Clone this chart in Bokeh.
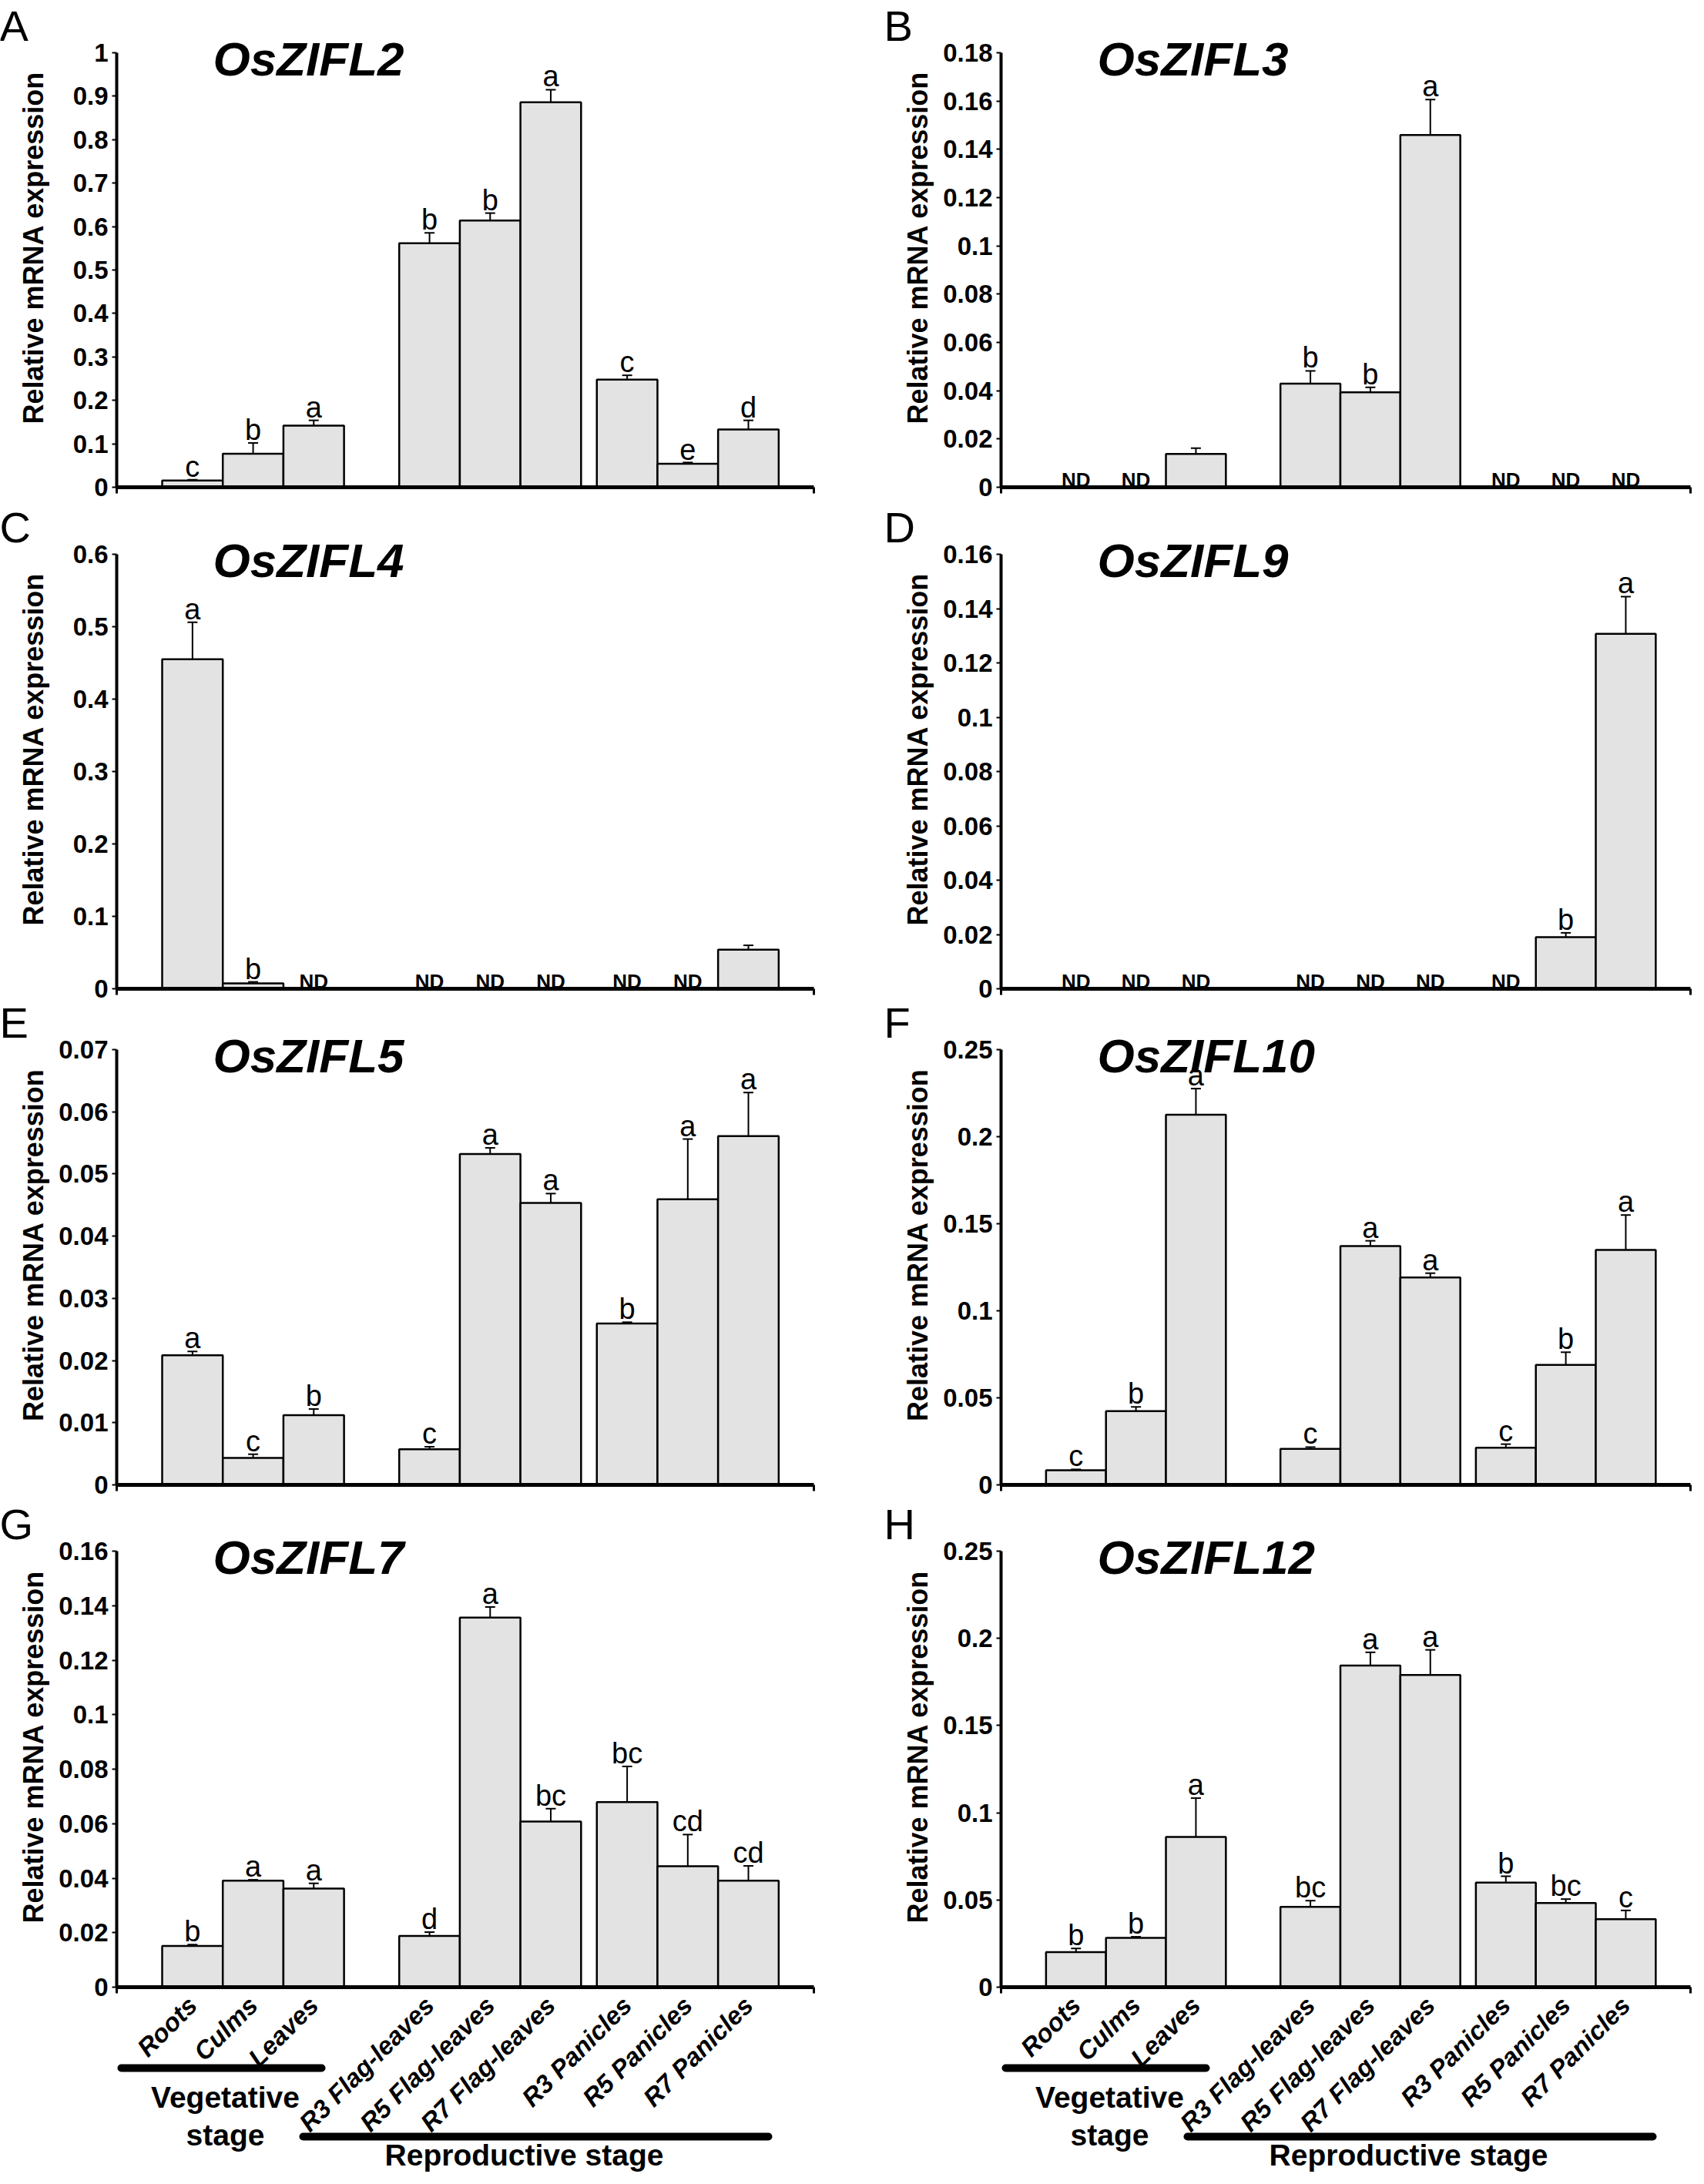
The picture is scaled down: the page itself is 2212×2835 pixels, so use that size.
import math
from bokeh.plotting import figure
from bokeh.models import (Range1d, FixedTicker, NumeralTickFormatter, Label, Whisker,
                          TeeHead, ColumnDataSource, CustomJSTickFormatter, LinearAxis)
from bokeh.embed import file_html
from bokeh.resources import INLINE
from bokeh.core.properties import value

# ---------------- data ----------------
tissues = ["Roots", "Culms", "Leaves",
           "R3 Flag-leaves", "R5 Flag-leaves", "R7 Flag-leaves",
           "R3 Panicles", "R5 Panicles", "R7 Panicles"]
tissue_group = [0, 0, 0, 1, 1, 1, 2, 2, 2]
stage_text_veg = ["Vegetative", "stage"]
stage_text_rep = ["Reproductive stage"]

panel_letters = ["A", "B", "C", "D", "E", "F", "G", "H"]
genes = ["OsZIFL2", "OsZIFL3", "OsZIFL4", "OsZIFL9",
         "OsZIFL5", "OsZIFL10", "OsZIFL7", "OsZIFL12"]
y_label = "Relative mRNA expression"
y_max = [1.0, 0.18, 0.6, 0.16, 0.07, 0.25, 0.16, 0.25]
y_step = [0.1, 0.02, 0.1, 0.02, 0.01, 0.05, 0.02, 0.05]

ND = None  # not detected

oszifl2 = [0.0154, 0.077, 0.142, 0.5615, 0.614, 0.886, 0.2477, 0.054, 0.133]
oszifl2_err = [0.002, 0.025, 0.012, 0.024, 0.017, 0.029, 0.010, 0.003, 0.021]
oszifl2_sig = ["c", "b", "a", "b", "b", "a", "c", "e", "d"]

oszifl3 = [ND, ND, 0.0138, 0.0429, 0.0393, 0.1459, ND, ND, ND]
oszifl3_err = [ND, ND, 0.0024, 0.0053, 0.0021, 0.0147, ND, ND, ND]
oszifl3_sig = ["", "", "", "b", "b", "a", "", "", ""]

oszifl4 = [0.455, 0.0075, ND, ND, ND, ND, ND, ND, 0.054]
oszifl4_err = [0.051, 0.002, ND, ND, ND, ND, ND, ND, 0.006]
oszifl4_sig = ["a", "b", "", "", "", "", "", "", ""]

oszifl9 = [ND, ND, ND, ND, ND, ND, ND, 0.019, 0.1307]
oszifl9_err = [ND, ND, ND, ND, ND, ND, ND, 0.0016, 0.0137]
oszifl9_sig = ["", "", "", "", "", "", "", "b", "a"]

oszifl5 = [0.02085, 0.00433, 0.0112, 0.00573, 0.0532, 0.04535, 0.02596, 0.04592, 0.0561]
oszifl5_err = [0.0006, 0.0006, 0.001, 0.0004, 0.001, 0.0015, 0.0002, 0.0097, 0.007]
oszifl5_sig = ["a", "c", "b", "c", "a", "a", "b", "a", "a"]

oszifl10 = [0.0084, 0.0424, 0.2126, 0.0207, 0.1372, 0.1191, 0.0214, 0.0689, 0.135]
oszifl10_err = [0.0005, 0.0024, 0.015, 0.001, 0.003, 0.0025, 0.002, 0.0073, 0.02]
oszifl10_sig = ["c", "b", "a", "c", "a", "a", "c", "b", "a"]

oszifl7 = [0.0151, 0.0391, 0.0362, 0.0188, 0.1356, 0.0608, 0.0679, 0.0444, 0.0391]
oszifl7_err = [0.0005, 0.0003, 0.0019, 0.0014, 0.0039, 0.0047, 0.0131, 0.0116, 0.0054]
oszifl7_sig = ["b", "a", "a", "d", "a", "bc", "bc", "cd", "cd"]

oszifl12 = [0.0201, 0.0283, 0.0861, 0.0461, 0.1844, 0.179, 0.060, 0.0483, 0.039]
oszifl12_err = [0.0021, 0.0006, 0.0223, 0.0035, 0.0076, 0.0144, 0.0036, 0.0022, 0.005]
oszifl12_sig = ["b", "b", "a", "bc", "a", "a", "b", "bc", "c"]

expr_values = [oszifl2, oszifl3, oszifl4, oszifl9, oszifl5, oszifl10, oszifl7, oszifl12]
expr_errors = [oszifl2_err, oszifl3_err, oszifl4_err, oszifl9_err,
               oszifl5_err, oszifl10_err, oszifl7_err, oszifl12_err]
expr_letters = [oszifl2_sig, oszifl3_sig, oszifl4_sig, oszifl9_sig,
                oszifl5_sig, oszifl10_sig, oszifl7_sig, oszifl12_sig]

# ---------------- layout / style ----------------
FONT = "Liberation Sans"
BAR_FILL = "#e3e3e3"
GROUP_START = [1.25, 5.16, 8.42]
X_END = 11.5
MARGIN = 8                      # page margin around the canvas
W, H = 2204, 2827
# measured page positions (px): y-axis x and x-axis end per column
COL_AXIS = [(159 - MARGIN, 1064 - MARGIN), (1307 - MARGIN, 2202 - MARGIN)]
# measured page positions (px): top tick y and zero y per row
ROW_AXIS = [(76 - MARGIN, 640 - MARGIN), (727 - MARGIN, 1291 - MARGIN),
            (1370 - MARGIN, 1935 - MARGIN), (2021 - MARGIN, 2587 - MARGIN)]

# bar centres derived from group membership
bar_x = []
_count = {}
for g in tissue_group:
    k = _count.get(g, 0)
    _count[g] = k + 1
    bar_x.append(round(GROUP_START[g] + k, 4))

p = figure(width=W, height=H, x_range=Range1d(0, W), y_range=Range1d(0, H),
           x_axis_location=None, y_axis_location=None,
           output_backend="svg", toolbar_location=None,
           min_border_left=0, min_border_right=0, min_border_top=0, min_border_bottom=0)
p.outline_line_color = None
p.grid.visible = False
p.background_fill_color = "white"
p.border_fill_color = "white"

# shared horizontal scales, one per column
for c, (ax, ae) in enumerate(COL_AXIS):
    ppu = (ae - ax) / X_END
    p.extra_x_ranges[f"x{c}"] = Range1d(-ax / ppu, X_END + (W - ae) / ppu)


def lbl(x, y_top, text, size, style="normal", align="left", baseline="alphabetic", angle=0.0):
    # x, y_top in pixels from the top-left of the canvas
    p.add_layout(Label(x=x, y=H - y_top, x_units="screen", y_units="screen", text=text,
                       text_font=FONT, text_font_size=size, text_font_style=style,
                       text_align=align, text_baseline=baseline, angle=angle,
                       text_color="black"))


for i in range(8):
    r, c = divmod(i, 2)
    ax, ae = COL_AXIS[c]
    yt, y0 = ROW_AXIS[r]
    ppu = (ae - ax) / X_END
    ppy = (y0 - yt) / y_max[i]
    xn, yn = f"x{c}", f"y{i}"
    p.extra_y_ranges[yn] = Range1d(-(H - y0) / ppy, y_max[i] + yt / ppy)

    # y axis at x = 0
    nt = int(round(y_max[i] / y_step[i]))
    ticks = [round(k * y_step[i], 4) for k in range(nt + 1)]
    ya = LinearAxis(x_range_name=xn, y_range_name=yn, fixed_location=0,
                    bounds=(0, y_max[i]), ticker=FixedTicker(ticks=ticks),
                    formatter=NumeralTickFormatter(format="0.[00]"))
    ya.axis_line_width = 4
    ya.axis_line_color = "black"
    ya.major_tick_out = 6
    ya.major_tick_in = 0
    ya.major_tick_line_width = 2
    ya.minor_tick_line_color = None
    ya.major_label_standoff = 5
    ya.major_label_text_font = FONT
    ya.major_label_text_font_style = "bold"
    ya.major_label_text_font_size = "33px"
    ya.major_label_text_color = "black"
    p.add_layout(ya, "left")

    # x axis at y = 0
    xa = LinearAxis(x_range_name=xn, y_range_name=yn, fixed_location=0, bounds=(0, X_END))
    xa.axis_line_width = 5
    xa.axis_line_color = "black"
    xa.minor_tick_out = 8
    xa.minor_tick_in = 0
    xa.minor_tick_line_width = 3
    xa.minor_tick_line_color = "black"
    xa.major_tick_line_color = None
    xa.major_tick_out = 0
    xa.major_tick_in = 0
    if r == 3:
        xa.ticker = FixedTicker(ticks=bar_x, minor_ticks=[0, X_END])
        xa.formatter = CustomJSTickFormatter(args=dict(pos=bar_x, names=tissues), code="""
            for (let k = 0; k < pos.length; k++) {
                if (Math.abs(pos[k] - tick) < 1e-6) { return names[k]; }
            }
            return "";
        """)
        xa.major_label_orientation = math.pi / 4
        xa.major_label_standoff = 10
        xa.major_label_text_font = FONT
        xa.major_label_text_font_style = "bold italic"
        xa.major_label_text_font_size = "33px"
        xa.major_label_text_color = "black"
    else:
        xa.ticker = FixedTicker(ticks=[], minor_ticks=[0, X_END])
        xa.major_label_text_font_size = "0px"
    p.add_layout(xa, "below")

    vals = expr_values[i]
    errs = expr_errors[i]
    sig = expr_letters[i]
    bx, btop, up, lo = [], [], [], []
    lx, ly, lt = [], [], []
    ndx = []
    for k in range(len(tissues)):
        if vals[k] is None:
            ndx.append(bar_x[k])
            continue
        bx.append(bar_x[k])
        btop.append(vals[k])
        up.append(vals[k] + errs[k])
        lo.append(vals[k] - errs[k])
        if sig[k]:
            lx.append(bar_x[k])
            ly.append(vals[k] + errs[k])
            lt.append(sig[k])

    src = ColumnDataSource(dict(x=bx, top=btop, upper=up, lower=lo))
    p.vbar(x="x", top="top", bottom=0, width=1.0, source=src,
           fill_color=BAR_FILL, line_color="black", line_width=2.5,
           x_range_name=xn, y_range_name=yn)
    p.add_layout(Whisker(source=src, base="x", upper="upper", lower="lower",
                         x_range_name=xn, y_range_name=yn,
                         line_width=2, line_color="black",
                         upper_head=TeeHead(size=13, line_width=2, line_color="black"),
                         lower_head=TeeHead(size=13, line_width=2, line_color="black")))
    if lt:
        p.text(x=lx, y=ly, text=lt, text_font=value(FONT), text_font_size=value("38px"),
               text_align="center", text_baseline="alphabetic", y_offset=-17,
               text_color="black", x_range_name=xn, y_range_name=yn)
    if ndx:
        p.text(x=ndx, y=[0] * len(ndx), text=["ND"] * len(ndx), text_font=value(FONT),
               text_font_size=value("26px"), text_font_style="bold",
               text_align="center", text_baseline="alphabetic", y_offset=-10,
               text_color="black", x_range_name=xn, y_range_name=yn)

    # panel letter, gene title, y label
    lbl(ax - 152, yt - 35, panel_letters[i], "56px")
    lbl(ax + 125, yt + 8, genes[i], "62px", style="bold italic")
    lbl(ax - 108, (yt + y0) / 2 - 29, y_label, "36px", style="bold",
        align="center", baseline="middle", angle=math.pi / 2)

    if r == 3:
        # stage brackets below the category labels (pixel offsets -> data units)
        p.segment(x0=[6 / ppu, 242 / ppu], y0=[-105 / ppy, -194 / ppy],
                  x1=[266 / ppu, 846 / ppu], y1=[-105 / ppy, -194 / ppy],
                  line_width=10, line_cap="round", line_color="black",
                  x_range_name=xn, y_range_name=yn)
        lbl(ax + 141, y0 + 143, stage_text_veg[0], "39px", style="bold", align="center")
        lbl(ax + 141, y0 + 192, stage_text_veg[1], "39px", style="bold", align="center")
        lbl(ax + 529, y0 + 218, stage_text_rep[0], "39px", style="bold", align="center")

open("out.html", "w").write(file_html(p, INLINE))
